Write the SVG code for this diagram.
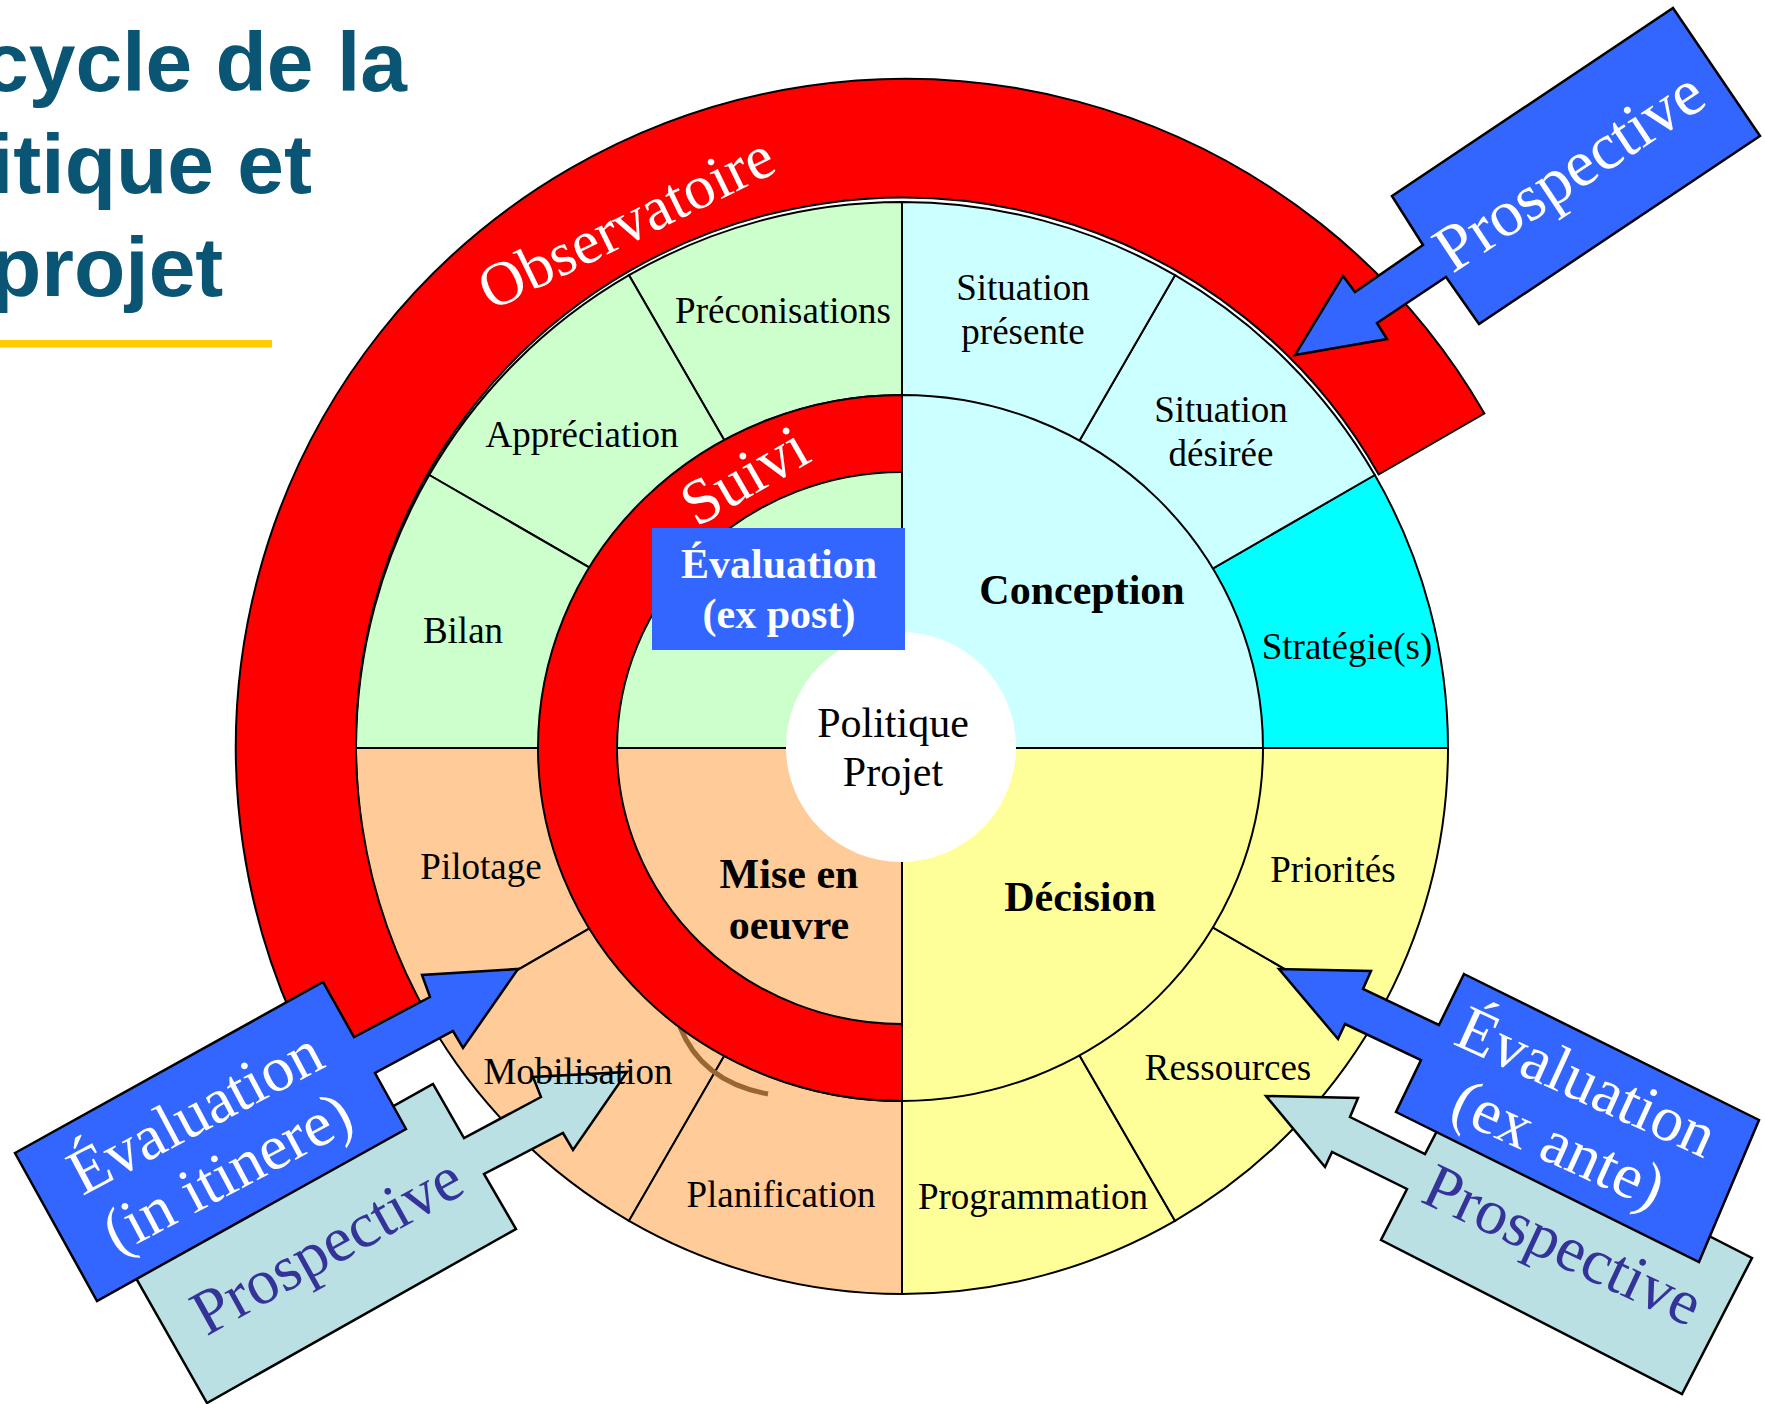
<svg xmlns="http://www.w3.org/2000/svg" width="1765" height="1404" viewBox="0 0 1765 1404">
<style>
.ln{stroke:#000;stroke-width:2;stroke-linejoin:miter}
.g{fill:#CCFFCC}.c{fill:#CCFFFF}.cy{fill:#00FFFF}.y{fill:#FFFF99}.o{fill:#FFCC99}.r{fill:#FF0000}
.lbl{font-family:"Liberation Serif","Times New Roman",serif;font-size:37px;fill:#000;text-anchor:middle}
.bd{font-family:"Liberation Serif","Times New Roman",serif;font-size:42px;font-weight:bold;fill:#000;text-anchor:middle}
.ctr{font-family:"Liberation Serif","Times New Roman",serif;font-size:42px;fill:#000;text-anchor:middle}
.wt{font-family:"Liberation Serif","Times New Roman",serif;font-size:64px;fill:#fff;text-anchor:middle}
.dk{font-family:"Liberation Serif","Times New Roman",serif;font-size:64px;fill:#333399;text-anchor:middle}
.blue{fill:#3366FF;stroke:#000;stroke-width:2.5;stroke-linejoin:miter}
.pale{fill:#BBE0E3;stroke:#000;stroke-width:2.5;stroke-linejoin:miter}
.title{font-family:"Liberation Sans",Arial,sans-serif;font-weight:bold;font-size:84px;fill:#0A5573}
</style>

<g id="title">
<text class="title" x="-18" y="91">cycle de la</text>
<text class="title" x="-10" y="193">itique et</text>
<text class="title" x="-10" y="296">projet</text>
<rect x="0" y="340" width="272" height="7.5" fill="#FFCC00"/>
</g>

<g id="wheel">
<g id="seg-strategies"><path class="ln cy" d="M902,748 L1448,748 A546,546 0 0 0 1374.8,475 Z"/><text class="lbl" x="1347" y="659">Stratégie(s)</text></g>
<g id="seg-situation-desiree"><path class="ln c" d="M902,748 L1374.8,475 A546,546 0 0 0 1175,275.2 Z"/><text class="lbl" x="1221" y="422">Situation</text><text class="lbl" x="1221" y="466">désirée</text></g>
<g id="seg-situation-presente"><path class="ln c" d="M902,748 L1175,275.2 A546,546 0 0 0 902,202 Z"/><text class="lbl" x="1023" y="300">Situation</text><text class="lbl" x="1023" y="344">présente</text></g>
<g id="seg-preconisations"><path class="ln g" d="M902,748 L902,202 A546,546 0 0 0 629,275.2 Z"/><text class="lbl" x="783" y="323">Préconisations</text></g>
<g id="seg-appreciation"><path class="ln g" d="M902,748 L629,275.2 A546,546 0 0 0 429.2,475 Z"/><text class="lbl" x="582" y="447">Appréciation</text></g>
<g id="seg-bilan"><path class="ln g" d="M902,748 L429.2,475 A546,546 0 0 0 356,748 Z"/><text class="lbl" x="463" y="643">Bilan</text></g>
<g id="seg-pilotage"><path class="ln o" d="M902,748 L356,748 A546,546 0 0 0 429.2,1021 Z"/><text class="lbl" x="481" y="879">Pilotage</text></g>
<g id="seg-mobilisation"><path class="ln o" d="M902,748 L429.2,1021 A546,546 0 0 0 629,1220.8 Z"/></g>
<g id="seg-planification"><path class="ln o" d="M902,748 L629,1220.8 A546,546 0 0 0 902,1294 Z"/><text class="lbl" x="781" y="1207">Planification</text></g>
<g id="seg-programmation"><path class="ln y" d="M902,748 L902,1294 A546,546 0 0 0 1175,1220.8 Z"/><text class="lbl" x="1033" y="1209">Programmation</text></g>
<g id="seg-ressources"><path class="ln y" d="M902,748 L1175,1220.8 A546,546 0 0 0 1374.8,1021 Z"/><text class="lbl" x="1228" y="1080">Ressources</text></g>
<g id="seg-priorites"><path class="ln y" d="M902,748 L1374.8,1021 A546,546 0 0 0 1448,748 Z"/><text class="lbl" x="1333" y="882">Priorités</text></g>

<g id="q-conception"><path class="ln c" d="M902,748 L1263,748 A361,353 0 0 0 902,395 Z"/><text class="bd" x="1082" y="604">Conception</text></g>
<g id="q-decision"><path class="ln y" d="M902,748 L902,1101 A361,353 0 0 0 1263,748 Z"/><text class="bd" x="1080" y="911">Décision</text></g>
<g id="q-mise-en-oeuvre"><path class="ln o" d="M902,748 L541,748 A361,353 0 0 0 902,1101 Z"/><text class="bd" x="789" y="888">Mise en</text><text class="bd" x="789" y="939">oeuvre</text></g>
<g id="q-evaluation-zone"><path class="ln g" d="M902,748 L902,395 A361,353 0 0 0 541,748 Z"/></g>

<path id="brown-arc" d="M680,1027 Q702,1082 768,1094" fill="none" stroke="#996633" stroke-width="5"/>

<g id="suivi"><path class="ln r" d="M902,395 A364,353 0 0 0 902,1101 L902,1024 A285,276 0 0 1 902,472 Z"/><text class="wt" transform="translate(755,494) rotate(-30)">Suivi</text></g>

<g id="centre"><circle cx="901" cy="747" r="115" fill="#fff"/><text class="ctr" x="893" y="737">Politique</text><text class="ctr" x="893" y="786">Projet</text></g>

<g id="observatoire"><path class="ln r" d="M325.6,1082.5 A669,669 0 1 1 1484.4,413.5 L1378.7,474.5 A547,547 0 1 0 431.3,1021.5 Z"/><text class="wt" style="font-size:62px" transform="translate(635,241) rotate(-26)">Observatoire</text></g>

<g id="evaluation-ex-post"><rect x="652" y="528" width="253" height="122" fill="#3366FF"/><text class="bd" style="fill:#fff" x="779" y="578">Évaluation</text><text class="bd" style="fill:#fff" x="779" y="628">(ex post)</text></g>
</g>

<g id="connectors">
<g id="prospective-in-itinere"><polygon class="pale" points="124,1257 433,1084 464,1138 541,1097 533,1077 627,1072 573,1150 563,1133 484,1174 516,1229 207,1403"/><text class="dk" transform="translate(337,1264) rotate(-29)">Prospective</text></g>
<g id="prospective-ex-ante"><polygon class="pale" points="1451,1104 1752,1258 1682,1394 1381,1240 1407,1189 1332,1152 1325,1167 1266,1096 1358,1098 1350,1117 1425,1154"/><text class="dk" transform="translate(1554,1264) rotate(25)">Prospective</text></g>
<g id="evaluation-in-itinere"><polygon class="blue" points="15,1153 323,982 354,1037 430,997 422,975 518,969 463,1048 453,1031 375,1073 406,1129 97,1301"/><text class="wt" transform="translate(205,1131) rotate(-28)">Évaluation</text><text class="wt" transform="translate(237,1191) rotate(-28)">(in itinere)</text></g>
<g id="evaluation-ex-ante"><polygon class="blue" points="1464,974 1759,1120 1699,1262 1396,1112 1421,1060 1345,1024 1338,1039 1279,969 1371,971 1363,989 1439,1025"/><text class="wt" transform="translate(1578,1101) rotate(24.5)">Évaluation</text><text class="wt" transform="translate(1550,1163) rotate(24.5)">(ex ante)</text></g>
<g id="prospective-top"><polygon class="blue" points="1392,196 1673,8 1760,136 1479,324 1446,277 1377,323 1387,339 1295,355 1343,276 1355,292 1423,245"/><text class="wt" style="font-size:66px" transform="translate(1581,189) rotate(-33.5)">Prospective</text></g>
</g>

<g id="label-mobilisation"><text class="lbl" x="578" y="1084">Mobilisation</text></g>
</svg>
